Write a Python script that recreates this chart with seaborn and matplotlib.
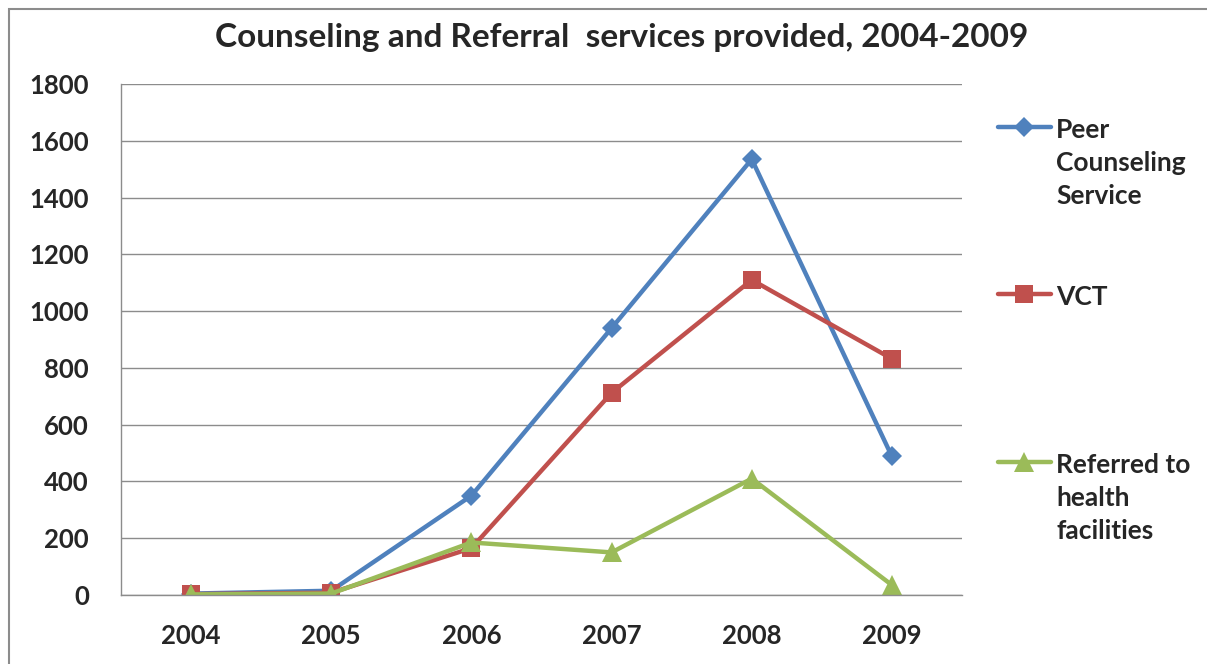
import matplotlib
matplotlib.use("Agg")
import matplotlib.pyplot as plt
import matplotlib.patches as mpatches
import seaborn as sns
import pandas as pd

years = ["2004", "2005", "2006", "2007", "2008", "2009"]
peer = [5, 15, 350, 940, 1535, 488]
vct = [3, 8, 165, 712, 1110, 832]
referred = [2, 5, 185, 150, 410, 35]
series_names = ["Peer\nCounseling\nService", "VCT", "Referred to\nhealth\nfacilities"]
colors = ["#4F81BD", "#C0504D", "#9BBB59"]
yticks = [0, 200, 400, 600, 800, 1000, 1200, 1400, 1600, 1800]
title = "Counseling and Referral  services provided, 2004-2009"

sns.set_style("white")
plt.rcParams["font.family"] = ["Lato", "DejaVu Sans"]
plt.rcParams["font.weight"] = "bold"

df = pd.DataFrame({
    "year": years * 3,
    "value": peer + vct + referred,
    "series": [series_names[0]] * 6 + [series_names[1]] * 6 + [series_names[2]] * 6,
})

fig = plt.figure(figsize=(12.07, 6.64), dpi=100)
ax = fig.add_axes([121 / 1207, 1 - 595 / 664, (962 - 121) / 1207, (595 - 84) / 664])

markers = {series_names[0]: "D", series_names[1]: "s", series_names[2]: "^"}
sizes_ms = {series_names[0]: 10.5, series_names[1]: 13.5, series_names[2]: 14}
for i, name in enumerate(series_names):
    sub = df[df["series"] == name]
    sns.lineplot(data=sub, x="year", y="value", ax=ax, color=colors[i],
                 marker=markers[name], markersize=sizes_ms[name],
                 markeredgewidth=0, linewidth=3.2, legend=False, sort=False)

ax.set_xlim(-0.5, len(years) - 0.5)
ax.set_ylim(0, 1800)
ax.set_yticks(yticks)
ax.set_yticklabels([str(t) for t in yticks], fontsize=18.5, fontweight="bold")
ax.set_xticks(range(len(years)))
ax.set_xticklabels(years, fontsize=18.5, fontweight="bold")
ax.set_xticks([i - 0.5 for i in range(len(years) + 1)], minor=True)
ax.tick_params(axis="x", which="major", length=0, pad=21)
ax.tick_params(axis="x", which="minor", length=9, width=1, color="#8c8c8c", direction="out")
ax.tick_params(axis="y", which="major", length=9, width=1, color="#8c8c8c", direction="out", pad=14)
ax.set_xlabel("")
ax.set_ylabel("")
ax.grid(axis="y", color="#8c8c8c", linewidth=1)
ax.set_axisbelow(True)
for s in ["top", "right"]:
    ax.spines[s].set_visible(False)
for s in ["left", "bottom"]:
    ax.spines[s].set_color("#8c8c8c")
    ax.spines[s].set_linewidth(1)

fig.text(622 / 1207, 1 - 37 / 664, title, ha="center", va="center",
         fontsize=24, fontweight="bold")

# legend: three entries, marker on first line of each label
lines = ax.get_lines()
anchors_y = [128, 295, 463]
for line, name, ay in zip(lines, series_names, anchors_y):
    leg = fig.legend([line], [name], loc="upper left",
                     bbox_to_anchor=(998 / 1207, 1 - (ay - 10) / 664),
                     frameon=False, fontsize=19, handlelength=2.0,
                     handletextpad=0.2, borderpad=0, borderaxespad=0)
    for t in leg.get_texts():
        t.set_fontweight("bold")
        t.set_linespacing(1.45)
    for col in leg._legend_handle_box.get_children():
        for row in col.get_children():
            row.align = "top"

# outer chart border
fig.patches.append(mpatches.Rectangle((9 / 1207, -0.05), 1.2, 1 - 9 / 664 + 0.05,
                                      transform=fig.transFigure, fill=False,
                                      edgecolor="#8c8c8c", linewidth=1.5))

fig.savefig("out.png", dpi=100)
